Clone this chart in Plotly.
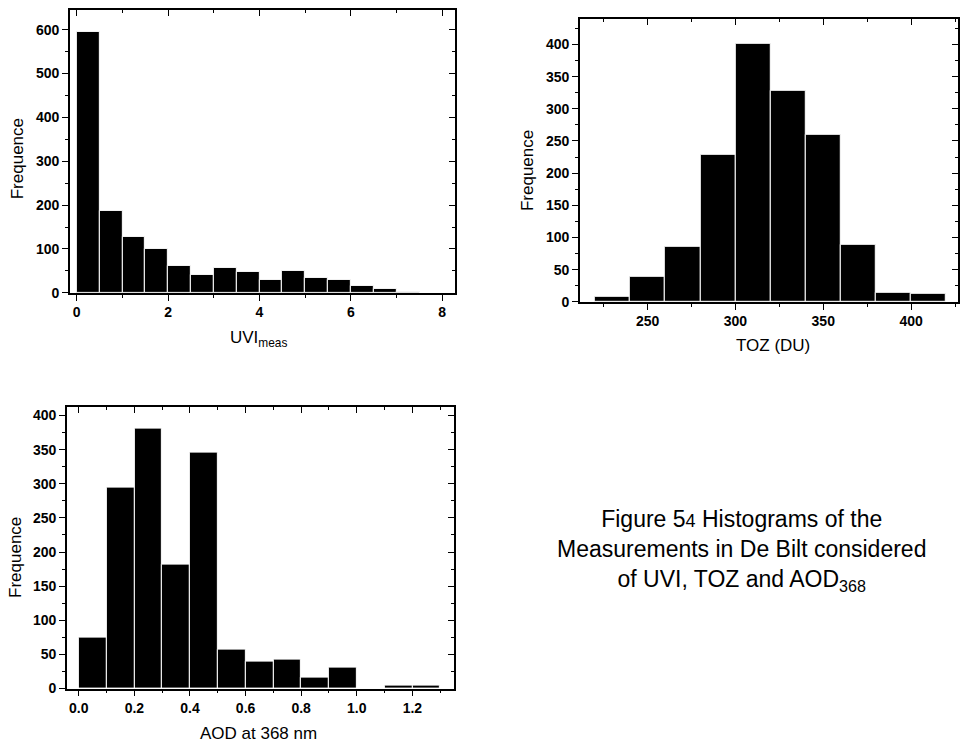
import numpy as np
import plotly.graph_objects as go

# ---------------- data ----------------
uvi_bin_edges = [0.0, 0.5, 1.0, 1.5, 2.0, 2.5, 3.0, 3.5, 4.0, 4.5, 5.0, 5.5, 6.0, 6.5, 7.0, 7.5, 8.0]
uvi_counts = [595, 186, 128, 100, 62, 42, 58, 48, 30, 50, 33, 30, 17, 8, 2, 0]

toz_bin_edges = [220, 240, 260, 280, 300, 320, 340, 360, 380, 400, 420]
toz_counts = [7, 39, 85, 228, 401, 328, 259, 89, 14, 12]

aod_bin_edges = [0.0, 0.1, 0.2, 0.3, 0.4, 0.5, 0.6, 0.7, 0.8, 0.9, 1.0, 1.1, 1.2, 1.3]
aod_counts = [74, 294, 381, 182, 345, 57, 40, 43, 16, 31, 0, 5, 5]

uvi_ticks = [0, 2, 4, 6, 8]
toz_ticks = [250, 300, 350, 400]
aod_ticks = [0.0, 0.2, 0.4, 0.6, 0.8, 1.0, 1.2]

W, H = 960, 751
FONT = "Liberation Sans, Arial, Helvetica, sans-serif"


def px_x(p):
    return p / W


def px_y(p):
    return 1 - p / H


def centers_widths(edges):
    e = np.asarray(edges, dtype=float)
    return (e[:-1] + e[1:]) / 2, np.diff(e)


fig = go.Figure()

panels = [
    (uvi_bin_edges, uvi_counts, "x", "y"),
    (toz_bin_edges, toz_counts, "x2", "y2"),
    (aod_bin_edges, aod_counts, "x3", "y3"),
]
for edges, counts, xa, ya in panels:
    c, w = centers_widths(edges)
    fig.add_trace(go.Bar(
        x=c, y=counts, width=w, xaxis=xa, yaxis=ya,
        marker=dict(color="black", line=dict(color="white", width=1)),
        showlegend=False,
    ))

# empty traces to attach overlay axes (inward ticks on top / right)
for xa, ya in [("x4", "y4"), ("x5", "y5"), ("x6", "y6")]:
    fig.add_trace(go.Scatter(x=[], y=[], xaxis=xa, yaxis=ya, showlegend=False, hoverinfo="skip"))

tickfont = dict(family=FONT, size=14, color="black", weight="bold")


def main_axis(domain, rng, dtick, minor_dtick, tickvals=None):
    d = dict(
        domain=domain, range=rng, showline=True, linecolor="black", linewidth=1.5,
        mirror=True, ticks="outside", ticklen=6, tickwidth=1.2, tickcolor="black",
        showgrid=False, zeroline=False, tickfont=tickfont, dtick=dtick, tick0=0,
        minor=dict(ticks="outside", ticklen=3, tickwidth=1, tickcolor="black",
                   dtick=minor_dtick, tick0=0, showgrid=False),
        fixedrange=True,
    )
    if tickvals is not None:
        d["tickmode"] = "array"
        d["tickvals"] = tickvals
        d.pop("dtick")
        d.pop("tick0")
    return d


def overlay_axis(base, side, anchor, rng, dtick, minor_dtick):
    return dict(
        overlaying=base, side=side, anchor=anchor, range=rng, showline=False,
        ticks="inside", ticklen=6, tickwidth=1.2, tickcolor="black",
        showticklabels=False, showgrid=False, zeroline=False, dtick=dtick, tick0=0,
        minor=dict(ticks="inside", ticklen=3, tickwidth=1, tickcolor="black",
                   dtick=minor_dtick, tick0=0, showgrid=False),
        fixedrange=True,
    )


# panel geometry (pixels)
p1_x = [px_x(70), px_x(456)]
p1_y = [px_y(296), px_y(10)]
p1_xr = [-0.15, 8.28]
p1_yr = [0, 645]

p2_x = [px_x(581), 1.0]
p2_y = [px_y(305), px_y(19)]
p2_xr = [211.4, 426.7]
p2_yr = [0, 440]

p3_x = [px_x(67), px_x(455)]
p3_y = [px_y(696), px_y(411)]
p3_xr = [-0.043, 1.35]
p3_yr = [0, 413]

fig.update_layout(
    width=W, height=H, margin=dict(l=0, r=0, t=0, b=0),
    paper_bgcolor="white", plot_bgcolor="white",
    bargap=0, showlegend=False,
    xaxis=dict(main_axis(p1_x, p1_xr, 2, 1), anchor="y"),
    yaxis=dict(main_axis(p1_y, p1_yr, 100, 50), anchor="x"),
    xaxis2=dict(main_axis(p2_x, p2_xr, None, 25, tickvals=toz_ticks), anchor="y2"),
    yaxis2=dict(main_axis(p2_y, p2_yr, 50, 25), anchor="x2"),
    xaxis3=dict(main_axis(p3_x, p3_xr, 0.2, 0.1), anchor="y3", tickformat=".1f"),
    yaxis3=dict(main_axis(p3_y, p3_yr, 50, 25), anchor="x3"),
    xaxis4=overlay_axis("x", "top", "y", p1_xr, 2, 1),
    yaxis4=overlay_axis("y", "right", "x", p1_yr, 100, 50),
    xaxis5=overlay_axis("x2", "top", "y2", p2_xr, 50, 25),
    yaxis5=overlay_axis("y2", "right", "x2", p2_yr, 50, 25),
    xaxis6=overlay_axis("x3", "top", "y3", p3_xr, 0.2, 0.1),
    yaxis6=overlay_axis("y3", "right", "x3", p3_yr, 50, 25),
)
fig.layout.xaxis2.minor.tick0 = 225
fig.layout.xaxis5.tick0 = 250
fig.layout.xaxis5.minor.tick0 = 225

ann = []


def add_text(text, x, y, angle=0, size=17, xanchor="center", yanchor="middle"):
    ann.append(dict(
        text=text, x=px_x(x), y=px_y(y), xref="paper", yref="paper",
        showarrow=False, textangle=angle, xanchor=xanchor, yanchor=yanchor,
        font=dict(family=FONT, size=size, color="black"),
    ))


add_text("Frequence", 17, 160, angle=-90)
add_text("UVI<sub>meas</sub>", 259, 343)
add_text("Frequence", 528, 172, angle=-90)
add_text("TOZ (DU)", 775, 349)
add_text("Frequence", 15, 563, angle=-90)
add_text("AOD at 368 nm", 259, 741)
add_text("Figure 5<span style='font-size:18px'>4</span> Histograms of the<br>"
         "Measurements in De Bilt considered<br>"
         "of UVI, TOZ and AOD<sub>368</sub>", 743, 556, size=23)

fig.update_layout(annotations=ann)

fig.write_html("out.html")
